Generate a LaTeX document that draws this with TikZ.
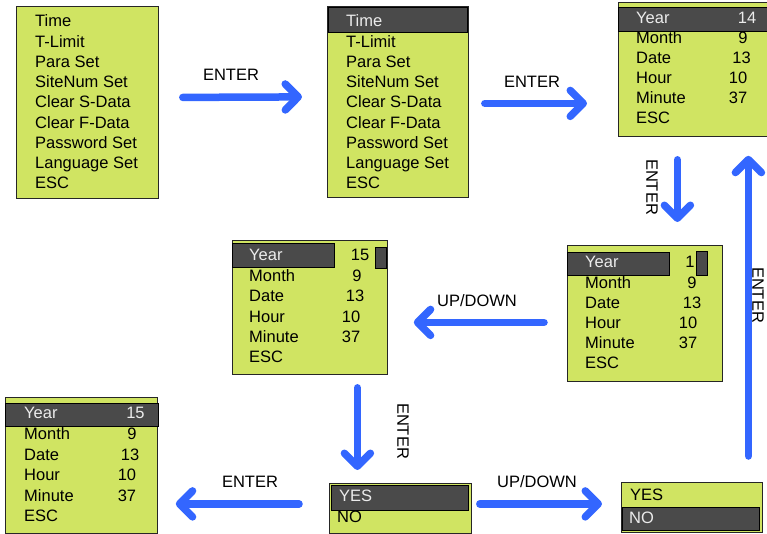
\documentclass[tikz,border=0pt]{standalone}
\usepackage{fontspec}
\setmainfont{Liberation Sans}
\usepackage{xcolor}
\usetikzlibrary{arrows.meta, positioning}
\definecolor{lcdgreen}{RGB}{208,228,98}
\definecolor{lcddark}{RGB}{74,74,74}
\definecolor{keyblue}{RGB}{51,102,255}

\begin{document}
\begin{tikzpicture}[x=1pt, y=-1pt,
  screen/.style={draw=black!85, line width=0.8pt, fill=lcdgreen, anchor=north west, inner sep=0pt},
  bar/.style={draw=black, line width=0.6pt, fill=lcddark, anchor=north west, inner sep=0pt},
  item/.style={anchor=base west, inner sep=0pt, font=\fontsize{16.5}{19}\selectfont},
  hot/.style={item, text=white!92!black},
  num/.style={anchor=base, inner sep=0pt, font=\fontsize{16.5}{19}\selectfont},
  key/.style={inner sep=0pt, font=\fontsize{16.5}{19}\selectfont},
  flow/.style={keyblue, line width=7.5pt, line cap=round,
               -{Straight Barb[length=13pt, width=26pt, round]}}
]
  \useasboundingbox (0,0) rectangle (767,533);

  \node[screen, minimum width=142, minimum height=192] (menu) at (16,6) {};
  \foreach \t [count=\i from 0] in {Time, T-Limit, Para Set, SiteNum Set, Clear S-Data,
      Clear F-Data, Password Set, Language Set, ESC}
    \node[item] (menu-\i) at (35, 26.8+20.25*\i) {\t};

  \node[screen, minimum width=141, minimum height=191] (menusel) at (327,6) {};
  \node[bar, minimum width=139, minimum height=25] (menusel-bar) at (328,7) {};
  \node[hot] (menusel-0) at (346,26.8) {Time};
  \foreach \t [count=\i from 1] in {T-Limit, Para Set, SiteNum Set, Clear S-Data,
      Clear F-Data, Password Set, Language Set, ESC}
    \node[item] (menusel-\i) at (346, 26.8+20.25*\i) {\t};

  \node[screen, minimum width=150, minimum height=134] (clock) at (618,2) {};
  \node[bar, minimum width=149, minimum height=24] (clock-bar) at (618,7) {};
  \node[hot] (clock-0) at (636,23.8) {Year};
  \node[num, text=white!92!black] (clock-v0) at (747,23.8) {14};
  \foreach \t/\v/\c [count=\i from 1] in {Month/9/743, Date/13/741.5, Hour/10/738, Minute/37/738, ESC//738} {
    \node[item] (clock-\i) at (636, 23.8+20*\i) {\t};
    \node[num] (clock-v\i) at (\c, 23.8+20*\i) {\v};
  }

  \node[screen, minimum width=155, minimum height=136] (edit) at (567,245) {};
  \node[bar, minimum width=102, minimum height=23] (edit-bar) at (567,252) {};
  \node[hot] (edit-0) at (585,267.8) {Year};
  \node[num] (edit-v0) at (690,267.8) {1};
  \node[bar, minimum width=11, minimum height=24] (edit-cursor) at (696,251) {};
  \foreach \t/\v/\c [count=\i from 1] in {Month/9/692, Date/13/692, Hour/10/688, Minute/37/688, ESC//688} {
    \node[item] (edit-\i) at (585, 267.8+20.2*\i) {\t};
    \node[num] (edit-v\i) at (\c, 267.8+20.2*\i) {\v};
  }

  \node[screen, minimum width=155, minimum height=134] (change) at (232,240) {};
  \node[bar, minimum width=102, minimum height=24] (change-bar) at (232,243) {};
  \node[hot] (change-0) at (249,260.8) {Year};
  \node[num] (change-v0) at (360,260.8) {15};
  \node[bar, minimum width=11, minimum height=21] (change-cursor) at (375,247) {};
  \foreach \t/\v/\c [count=\i from 1] in {Month/9/357, Date/13/355, Hour/10/351, Minute/37/351, ESC//351} {
    \node[item] (change-\i) at (249, 260.8+20.4*\i) {\t};
    \node[num] (change-v\i) at (\c, 260.8+20.4*\i) {\v};
  }

  \node[screen, minimum width=152, minimum height=136] (saved) at (5,397) {};
  \node[bar, minimum width=153, minimum height=23] (saved-bar) at (5,403) {};
  \node[hot] (saved-0) at (24,418.8) {Year};
  \node[num, text=white!92!black] (saved-v0) at (135.5,418.8) {15};
  \foreach \t/\v/\c [count=\i from 1] in {Month/9/132, Date/13/130, Hour/10/127, Minute/37/127, ESC//127} {
    \node[item] (saved-\i) at (24, 418.8+20.6*\i) {\t};
    \node[num] (saved-v\i) at (\c, 418.8+20.6*\i) {\v};
  }

  \node[screen, minimum width=142, minimum height=50] (ask) at (329,483) {};
  \node[bar, minimum width=137, minimum height=25] (ask-bar) at (331,485) {};
  \node[hot] (ask-yes) at (339,501.8) {YES};
  \node[item] (ask-no) at (337,522.8) {NO};

  \node[screen, minimum width=141, minimum height=50] (answer) at (621,482) {};
  \node[bar, minimum width=137, minimum height=23] (answer-bar) at (622,507) {};
  \node[item] (answer-yes) at (630,500.8) {YES};
  \node[hot] (answer-no) at (629,523.8) {NO};

  \draw[flow] ([xshift=24, yshift=5]menu.east) -- ([xshift=-25, yshift=5]menusel.west);
  \draw[flow] ([xshift=16, yshift=-1.5]menusel.east) -- ([xshift=-31, yshift=-34]clock.west);
  \draw[flow] ([xshift=-16, yshift=-23]clock.south) -- ([xshift=32.5, yshift=23]edit.north);
  \draw[flow] ([xshift=-23, yshift=-9]edit.west) -- ([xshift=26, yshift=-15]change.east);
  \draw[flow] ([xshift=47.5, yshift=-13]change.south) -- ([xshift=-43, yshift=13]ask.north);
  \draw[flow] ([xshift=8, yshift=4.5]ask.east) -- ([xshift=-19, yshift=3.5]answer.west);
  \draw[flow] ([xshift=-30, yshift=4.5]ask.west) -- ([xshift=18, yshift=-38.5]saved.east);
  \draw[flow] ([xshift=56.5, yshift=26]answer.north) -- ([xshift=55, yshift=-19]clock.south);

  \node[key] (enter-a) at (231,75) {ENTER};
  \node[key] (enter-b) at (532,82) {ENTER};
  \node[key, rotate=-90] (enter-c) at (652,187) {ENTER};
  \node[key] (updown-a) at (477,301) {UP/DOWN};
  \node[key, rotate=-90] (enter-d) at (403,431) {ENTER};
  \node[key] (updown-b) at (537,482) {UP/DOWN};
  \node[key] (enter-e) at (250,482) {ENTER};
  \node[key, rotate=-90] (enter-f) at (758,295) {ENTER};
\end{tikzpicture}
\end{document}
